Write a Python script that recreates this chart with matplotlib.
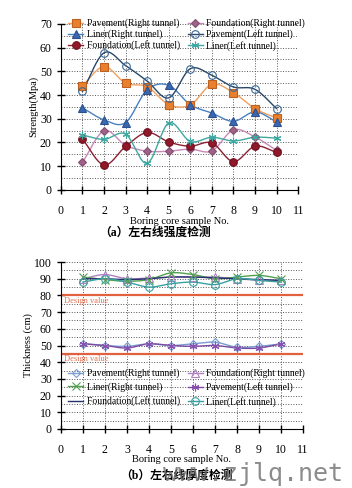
import numpy as np
import matplotlib
matplotlib.use("Agg")
import matplotlib.pyplot as plt

plt.rcParams['font.family'] = ['Liberation Serif', 'Noto Sans CJK SC', 'DejaVu Sans']
plt.rcParams['mathtext.fontset'] = 'stix'

samples = np.arange(1, 11)

# strength (MPa)
pave_r_s = [44, 52, 45, 43.5, 36, 35.8, 44.5, 41, 34.2, 30.3]
found_r_s = [11.6, 24.9, 18.8, 16.3, 16.3, 17.2, 16.4, 25.3, 22.3, 16.6]
liner_r_s = [34.6, 29.5, 28.4, 42.2, 44.1, 35.9, 32.4, 28.9, 32.9, 28.7]
pave_l_s = [41.5, 57.8, 52.4, 45.9, 38.8, 51.1, 48.3, 43.4, 42.4, 34.3]
found_l_s = [21.4, 10.5, 18.3, 24.2, 20.2, 18.4, 19.8, 11.9, 18.4, 15.8]
liner_l_s = [23.1, 21.3, 23.5, 11.2, 28.2, 20.4, 22.2, 20.6, 22.2, 21.8]

# thickness (cm)
pave_r_t = [51.2, 50, 49.5, 51, 50, 51, 52, 49, 49.5, 51]
found_r_t = [90, 92.5, 90, 90.5, 91, 91, 91, 90, 89, 89]
liner_r_t = [91, 89.5, 88.5, 89.5, 93.5, 92.5, 90, 91, 92, 90]
pave_l_t = [51, 50, 48.5, 51, 50, 49.5, 50, 48.5, 48.5, 51]
found_l_t = [90, 90, 89.5, 90, 91, 91, 90.5, 90, 89.5, 89]
liner_l_t = [88, 90, 88, 85, 87, 88, 86.5, 90, 89, 88]

design_values = [80, 45]


def smooth(x, y, n=20):
    # catmull-rom curve through the points
    x = np.asarray(x, float)
    y = np.asarray(y, float)
    px = np.concatenate([[2 * x[0] - x[1]], x, [2 * x[-1] - x[-2]]])
    py = np.concatenate([[2 * y[0] - y[1]], y, [2 * y[-1] - y[-2]]])
    t = np.linspace(0, 1, n)[:, None]
    xs, ys = [], []
    for i in range(1, len(px) - 2):
        for p, out in ((px, xs), (py, ys)):
            p0, p1, p2, p3 = p[i - 1], p[i], p[i + 1], p[i + 2]
            c = 0.5 * (2 * p1 + (-p0 + p2) * t + (2 * p0 - 5 * p1 + 4 * p2 - p3) * t ** 2
                       + (-p0 + 3 * p1 - 3 * p2 + p3) * t ** 3)
            out.append(c.ravel())
    return np.concatenate(xs), np.concatenate(ys)


def series(ax, y, label, lc, mk, mfc, mec, ms=5.5):
    sx, sy = smooth(samples, y)
    ax.plot(sx, sy, color=lc, lw=1.0, zorder=3)
    ax.plot(samples, y, ls='none', marker=mk, mfc=mfc, mec=mec, ms=ms, mew=0.8, zorder=4)
    h, = ax.plot([], [], color=lc, lw=1.0, marker=mk, mfc=mfc, mec=mec, ms=ms, mew=0.8, label=label)
    return h


def style(ax, ymax):
    ax.set_xlim(0, 11)
    ax.set_ylim(0, ymax)
    ax.set_xticks(range(0, 12))
    ax.set_yticks(range(0, ymax + 1, 10))
    ax.set_yticks(range(5, ymax, 10), minor=True)
    ax.grid(True, which='both', ls=':', color='#555555', lw=0.7)
    ax.spines['top'].set_visible(False)
    ax.spines['right'].set_visible(False)
    ax.tick_params(which='major', direction='inout', length=6, width=1, labelsize=8.5)
    ax.tick_params(axis='x', pad=8)
    ax.tick_params(which='minor', length=0)
    ax.set_axisbelow(True)


fig = plt.figure(figsize=(3.52, 4.88), dpi=100)
order = [0, 2, 4, 1, 3, 5]
leg_kw = dict(ncol=2, frameon=False, fontsize=6.9, handlelength=1.6, handletextpad=0.35,
              columnspacing=0.8, borderaxespad=0.1)

# (a) strength
ax1 = fig.add_axes([0.173, 0.611, 0.674, 0.340])
hs = [
    series(ax1, pave_r_s, 'Pavement(Right tunnel)', '#f0a060', 's', '#e8802e', '#c06020'),
    series(ax1, found_r_s, 'Foundation(Right tunnel)', '#c888b8', 'D', '#a06088', '#805070', 4.5),
    series(ax1, liner_r_s, 'Liner(Right tunnel)', '#4a80c0', '^', '#3a68b0', '#2a5090'),
    series(ax1, pave_l_s, 'Pavement(Left tunnel)', '#2a4868', 'o', 'none', '#3a6898'),
    series(ax1, found_l_s, 'Foundation(Left tunnel)', '#8a2030', 'o', '#901828', '#701020'),
    series(ax1, liner_l_s, 'Liner(Left tunnel)', '#40a8a0', (6, 2, 0), 'none', '#40a8a0'),
]
style(ax1, 70)
ax1.set_xlabel('Boring core sample No.', fontsize=7.5, labelpad=0)
ax1.set_ylabel('Strength(Mpa)', fontsize=7.5, labelpad=1)
ax1.legend([hs[i] for i in order], [hs[i].get_label() for i in order],
           loc='upper left', bbox_to_anchor=(0.01, 1.06), labelspacing=0.12, **leg_kw)
fig.text(0.44, 0.522, '（a）左右线强度检测', ha='center', va='center', fontsize=8.5,
         fontweight='bold')

# (b) thickness
ax2 = fig.add_axes([0.173, 0.121, 0.688, 0.342])
hs2 = [
    series(ax2, pave_r_t, 'Pavement(Right tunnel)', '#7a9cd0', 'D', 'none', '#7a9cd0', 4.5),
    series(ax2, found_r_t, 'Foundation(Right tunnel)', '#b080c0', '^', 'none', '#b080c0'),
    series(ax2, liner_r_t, 'Liner(Right tunnel)', '#50a050', 'x', 'none', '#50a050'),
    series(ax2, pave_l_t, 'Pavement(Left tunnel)', '#7a4aa0', (6, 2, 0), 'none', '#8a50b0'),
    series(ax2, found_l_t, 'Foundation(Left tunnel)', '#283070', '', 'none', '#283070'),
    series(ax2, liner_l_t, 'Liner(Left tunnel)', '#38a0a0', 'o', 'none', '#38a0a0'),
]
for dv in design_values:
    ax2.axhline(dv, color='#e06040', lw=1.6, zorder=2)
    ax2.text(0.15, dv - 0.8, 'Design value', color='#e07050', fontsize=6, va='top', ha='left')
style(ax2, 100)
ax2.set_xlabel('Boring core sample No.', fontsize=7.5, labelpad=-1)
ax2.set_ylabel('Thickness (cm)', fontsize=7.5, labelpad=1)
ax2.legend([hs2[i] for i in order], [hs2[i].get_label() for i in order],
           loc='lower left', bbox_to_anchor=(0.01, 0.105), labelspacing=0.45, **leg_kw)
fig.text(0.5, 0.025, '（b）左右线厚度检测', ha='center', va='center', fontsize=8.5,
         fontweight='bold')
fig.text(0.72, 0.028, 'www.zjlq.net', ha='center', va='center', fontsize=18,
         family='DejaVu Sans Mono', color='#707070', alpha=0.8)

fig.savefig('out.png', dpi=100)
